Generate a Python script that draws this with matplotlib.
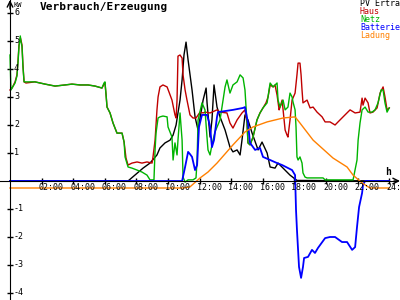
import matplotlib
matplotlib.use("Agg")
import matplotlib.pyplot as plt
from matplotlib.transforms import offset_copy

plt.rcParams['font.family'] = ['DejaVu Sans Mono', 'DejaVu Sans']

# time of day in hours, power in kW
pv_h = [0, 7.47, 8.42, 8.86, 9.30, 9.49, 9.81, 10.13, 10.32, 10.51, 10.63, 10.76, 10.89,
        11.01, 11.14, 11.27, 11.52, 11.71, 11.90, 12.22, 12.41, 12.47, 12.66, 12.78, 12.91,
        13.10, 13.29, 13.61, 13.92, 14.11, 14.37, 14.56, 14.68, 14.87, 15.06, 15.32, 15.70,
        15.95, 16.27, 16.46, 16.77, 16.96, 17.28, 17.72, 18.16, 24.0]
pv_kw = [0, 0, 0.46, 0.64, 0.93, 1.18, 1.36, 1.46, 1.64, 2.0, 2.43, 2.89, 3.61,
         4.5, 4.96, 4.32, 3.25, 2.29, 1.82, 2.89, 3.32, 2.79, 1.57, 2.18, 3.43,
         2.64, 2.29, 1.82, 1.21, 1.04, 1.11, 0.93, 1.46, 2.36, 2.18, 1.71, 1.11,
         1.39, 1.0, 0.5, 0.46, 0.64, 0.46, 0.21, 0.02, 0.0]

haus_h = [0, 0.13, 0.32, 0.44, 0.51, 0.57, 0.66, 0.76, 0.82, 0.89, 1.01, 1.58, 2.22, 2.85,
          3.48, 3.92, 4.43, 4.94, 5.38, 5.82, 5.95, 6.01, 6.08, 6.14, 6.33, 6.52, 6.77, 7.09,
          7.22, 7.34, 7.47, 7.72, 8.04, 8.35, 8.67, 8.99, 9.05, 9.18, 9.30, 9.37, 9.49, 9.68,
          9.94, 10.06, 10.25, 10.44, 10.51, 10.57, 10.63, 10.76, 10.89, 10.95, 11.08, 11.20,
          11.39, 11.58, 11.77, 12.03, 12.22, 12.34, 12.66, 13.10, 13.29, 13.73, 13.92, 14.11,
          14.37, 14.68, 14.87, 15.0, 15.06, 15.19, 15.38, 15.63, 15.82, 16.01, 16.20, 16.33,
          16.46, 16.65, 16.77, 16.90, 17.03, 17.09, 17.22, 17.41, 17.53, 17.59, 17.72, 17.85,
          18.04, 18.16, 18.23, 18.35, 18.42, 18.48, 18.54, 18.80, 18.99, 19.18, 19.43, 19.75,
          19.94, 20.25, 20.57, 20.76, 21.20, 21.52, 21.84, 22.15, 22.28, 22.34, 22.47, 22.66,
          22.78, 22.97, 23.23, 23.42, 23.61, 23.73, 23.86, 24.0]
haus_kw = [3.25, 3.32, 3.54, 3.79, 4.32, 4.86, 5.11, 4.86, 4.14, 3.54, 3.5, 3.54, 3.46, 3.39,
           3.43, 3.46, 3.43, 3.43, 3.39, 3.32, 3.46, 3.5, 3.07, 2.64, 2.43, 2.07, 1.71, 1.71,
           1.39, 0.82, 0.57, 0.64, 0.68, 0.64, 0.68, 0.64, 0.86, 1.46, 2.54, 3.0, 3.36, 3.43,
           3.36, 3.18, 2.89, 2.36, 2.25, 2.89, 4.46, 4.5, 4.39, 3.79, 3.25, 2.89,
           2.36, 2.25, 2.25, 2.46, 2.43, 2.46, 2.43, 2.54, 2.46, 2.43, 2.07, 1.89,
           2.18, 2.43, 2.54, 2.07, 1.36, 1.29, 1.57, 2.18, 2.43, 2.61, 2.79, 3.0,
           3.43, 3.36, 3.43, 3.07, 2.54, 2.64, 2.89, 1.82, 1.64, 1.57, 2.18, 2.89,
           3.14, 3.79, 4.21, 4.21, 3.79, 3.25, 2.79, 2.89, 2.61, 2.64, 2.46, 2.29,
           2.11, 2.11, 2.0, 2.11, 2.36, 2.54, 2.43, 2.46, 2.96, 2.71, 2.96, 2.79,
           2.43, 2.46, 2.61, 3.14, 3.36, 3.0, 2.54, 2.61]

netz_h = [0, 0.06, 0.13, 0.32, 0.44, 0.51, 0.57, 0.65, 0.70, 0.76, 0.82, 0.89, 1.01, 1.58,
          2.22, 2.85, 3.48, 3.92, 4.43, 4.94, 5.38, 5.82, 5.95, 6.01, 6.08, 6.14, 6.33, 6.52,
          6.77, 7.09, 7.22, 7.28, 7.47, 7.72, 8.04, 8.35, 8.67, 8.86, 9.11, 9.18, 9.24, 9.37,
          9.49, 9.68, 9.94, 10.0, 10.25, 10.32, 10.44, 10.57, 10.63, 10.76, 10.89, 10.95,
          11.08, 11.27, 11.58, 11.77, 11.84, 11.90, 12.15, 12.34, 12.47, 12.53, 12.66, 12.78,
          12.97, 13.29, 13.61, 13.73, 13.92, 14.11, 14.37, 14.56, 14.75, 14.87, 15.0, 15.06,
          15.19, 15.38, 15.63, 15.82, 16.01, 16.27, 16.46, 16.65, 16.90, 16.96, 17.09, 17.28,
          17.41, 17.59, 17.72, 17.85, 17.91, 18.04, 18.10, 18.16, 18.23, 18.35, 18.48, 18.54,
          18.67, 18.80, 19.81, 19.94, 21.71, 21.96, 22.03, 22.15, 22.28, 22.47, 22.66, 22.91,
          23.10, 23.29, 23.48, 23.61, 23.73, 23.86, 24.0]
netz_kw = [4.5, 3.25, 3.32, 3.5, 3.75, 4.25, 4.82, 5.18, 4.96, 4.79, 4.07, 3.54, 3.54, 3.54,
           3.46, 3.39, 3.43, 3.46, 3.43, 3.43, 3.39, 3.32, 3.5, 3.54, 3.07, 2.64, 2.43, 2.07,
           1.71, 1.71, 1.39, 0.86, 0.5, 0.46, 0.39, 0.32, 0.21, 0.04, 0.04, 1.11, 1.71, 2.25,
           2.29, 2.32, 2.29, 1.93, 1.57, 0.75, 1.36, 0.93, 1.46, 2.43, 1.46, 0.14,
           -0.04, 0.04, 0.04, 0.11, 0.75, 2.18, 2.79, 2.54, 1.54, 1.11, 0.93, 1.29,
           1.75, 2.18, 3.36, 3.61, 3.14, 3.43, 3.54, 3.79, 3.68, 3.25, 2.07, 1.36,
           1.29, 1.57, 2.18, 2.43, 2.61, 2.79, 3.5, 3.36, 3.5, 2.89, 2.64, 2.89,
           2.54, 2.64, 3.14, 3.0, 2.82, 2.54, 1.93, 0.86, 0.75, 0.86, 0.64, 0.29,
           0.14, 0.11, 0.11, 0.04, 0.04, 0.75, 1.46, 2.07, 2.54, 2.64, 2.46, 2.46,
           2.54, 2.79, 3.25, 3.25, 2.79, 2.46, 2.61]

batt_h = [0, 10.89, 11.08, 11.27, 11.39, 11.52, 11.71, 11.84, 11.96, 12.15, 12.47, 12.59,
          12.66, 12.78, 12.91, 13.10, 13.16, 14.11, 14.75, 14.87, 15.06, 15.19, 15.51, 15.82,
          16.01, 16.46, 16.90, 17.22, 17.85, 18.04, 18.10, 18.16, 18.29, 18.42, 18.54, 18.61,
          18.86, 19.11, 19.30, 19.49, 19.94, 20.25, 20.57, 21.01, 21.33, 21.65, 21.84, 21.96,
          22.09, 22.28, 22.34, 22.47, 24.0]
batt_kw = [0, 0, 0.5, 1.04, 0.96, 0.86, 0.39, 0.57, 1.93, 2.36, 2.36, 2.11,
           1.93, 1.21, 1.46, 2.29, 2.46, 2.54, 2.61, 2.64, 2.07, 1.36, 1.11, 1.18,
           0.86, 0.75, 0.64, 0.57, 0.39, 0.21, -1.04, -1.75, -3.07, -3.46, -3.07, -2.75,
           -2.71, -2.46, -2.57, -2.39, -2.04, -2.0, -2.0, -2.18, -2.18, -2.46, -2.36, -1.64,
           -0.93, -0.43, -0.14, 0, 0]

ladung_h = [0, 10.95, 11.39, 12.03, 12.53, 13.10, 14.11, 14.87, 15.38, 16.27, 17.28, 18.04,
            18.35, 19.18, 20.44, 21.33, 21.71, 22.28, 22.78, 24.0]
ladung_kw = [-0.25, -0.25, -0.21, 0.11, 0.32, 0.64, 1.29, 1.75, 1.93, 2.11, 2.25, 2.29,
             2.07, 1.46, 0.82, 0.5, 0.21, -0.07, -0.25, -0.25]

hour_ticks = list(range(2, 25, 2))
kw_ticks = [-4, -3, -2, -1, 1, 2, 3, 4, 5, 6]

RED = '#c00000'
GREEN = '#00b400'
BLUE = '#0000ff'
ORANGE = '#ff8000'

fig = plt.figure(figsize=(4, 3), dpi=100)
ax = fig.add_axes([0, 0, 1, 1])
ax.set_xlim(-0.633, 24.68)
ax.set_ylim(-4.25, 6.464)

ax.spines['top'].set_visible(False)
ax.spines['right'].set_visible(False)
ax.spines['left'].set_position(('data', 0))
ax.spines['bottom'].set_position(('data', 0))
ax.spines['bottom'].set_bounds(-0.633, 24.5)
ax.set_xticks(hour_ticks)
ax.set_yticks(kw_ticks)
ax.tick_params(direction='inout', length=4.5, width=1, labelbottom=False, labelleft=False)

# axis arrows
ax.annotate('', xy=(0, 1.0), xytext=(0, 0.97), xycoords=('data', 'axes fraction'),
            arrowprops=dict(arrowstyle='->', lw=1, color='black', shrinkA=0, shrinkB=0))
ax.annotate('', xy=(24.68, 0), xytext=(24.3, 0), xycoords='data',
            arrowprops=dict(arrowstyle='->', lw=1, color='black', shrinkA=0, shrinkB=0))

lw = 1.0
ax.plot(pv_h, pv_kw, color='black', lw=lw)
ax.plot(haus_h, haus_kw, color=RED, lw=lw)
ax.plot(netz_h, netz_kw, color=GREEN, lw=lw)
ax.plot(batt_h, batt_kw, color=BLUE, lw=1.3)
ax.plot(ladung_h, ladung_kw, color=ORANGE, lw=lw)

# tick labels
xlab_tr = offset_copy(ax.transData, fig=fig, x=-3, y=-7, units='dots')
for h in hour_ticks:
    ax.text(h, 0, '%02d:00' % h, transform=xlab_tr, ha='left', va='center', fontsize=6)
ylab_tr = offset_copy(ax.transData, fig=fig, x=4, y=0, units='dots')
for v in kw_ticks:
    ax.text(0, v, str(v), transform=ylab_tr, ha='left', va='center', fontsize=6)

ax.text(0.034, 0.993, 'KW', transform=ax.transAxes, fontsize=5, va='top', ha='left')
ax.text(0.97, 0.427, 'h', transform=ax.transAxes, fontsize=7, fontweight='bold',
        ha='center', va='center')

fig.text(0.1, 0.975, 'Verbrauch/Erzeugung', fontsize=8, fontweight='bold', ha='left', va='center')

legend_items = [('PV Ertrag', 'black'), ('Haus', RED), ('Netz', GREEN),
                ('Batterie', BLUE), ('Ladung', ORANGE)]
for i, (name, col) in enumerate(legend_items):
    fig.text(0.9, 0.987 - i * 0.0267, name, color=col, fontsize=6, ha='left', va='center')

fig.savefig('out.png', dpi=100, facecolor='white')
